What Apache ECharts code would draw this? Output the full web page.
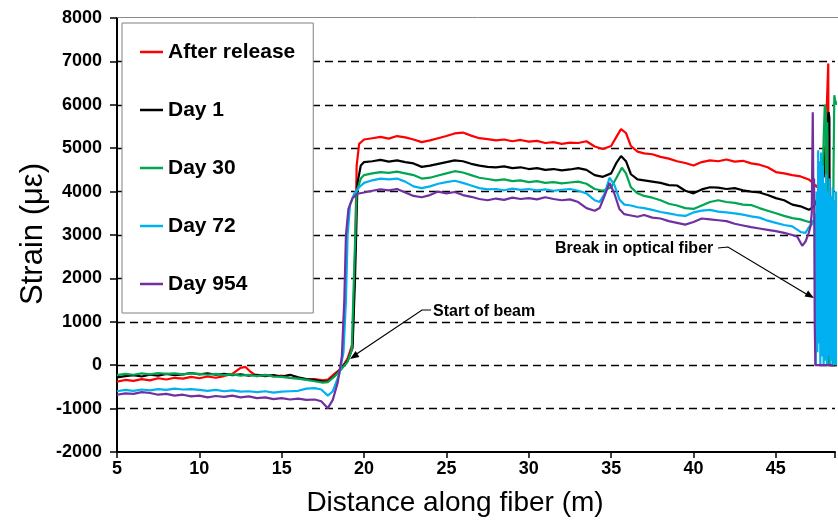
<!DOCTYPE html>
<html>
<head>
<meta charset="utf-8">
<script src="https://cdn.jsdelivr.net/npm/echarts@6/dist/echarts.min.js"></script>
<style>
html,body{margin:0;padding:0;background:#fff;}
#chart{width:838px;height:520px;}
</style>
</head>
<body>
<div id="chart"></div>
<script>
// ---- Data (x = distance along fiber in m, y = strain in microstrain) ----
const seriesNames = ['After release', 'Day 1', 'Day 30', 'Day 72', 'Day 954'];
const seriesColors = ['#ff0000', '#000000', '#00a651', '#00b0f0', '#7030a0'];
const xTicks = [5, 10, 15, 20, 25, 30, 35, 40, 45];
const yTicks = [-2000, -1000, 0, 1000, 2000, 3000, 4000, 5000, 6000, 7000, 8000];

const afterRelease = [
  [5,-380],[5.5,-340],[6,-360],[6.5,-320],[7,-350],[7.5,-300],[8,-330],[8.5,-290],[9,-310],[9.5,-270],
  [10,-300],[10.5,-260],[11,-290],[11.5,-250],[12,-200],[12.5,-60],[12.8,-40],[13.1,-150],[13.5,-250],
  [14,-220],[14.5,-260],[15,-240],[15.5,-290],[16,-300],[16.5,-330],[17,-320],[17.5,-350],[17.8,-330],
  [18.2,-200],[18.6,-80],[19,150],[19.3,500],[19.45,2500],[19.55,4600],[19.7,5100],[20,5200],[20.5,5230],
  [21,5260],[21.5,5220],[22,5280],[22.5,5250],[23,5200],[23.5,5140],[24,5180],[24.5,5230],[25,5280],
  [25.5,5340],[26,5360],[26.5,5290],[27,5230],[27.5,5210],[28,5180],[28.5,5200],[29,5160],[29.5,5190],
  [30,5150],[30.5,5170],[31,5120],[31.5,5140],[32,5100],[32.5,5130],[33,5120],[33.5,5160],[34,5040],
  [34.5,4980],[35,5050],[35.3,5250],[35.6,5440],[35.9,5350],[36.2,5050],[36.6,4920],[37,4880],[37.5,4860],
  [38,4800],[38.5,4760],[39,4700],[39.5,4660],[40,4600],[40.5,4680],[41,4720],[41.5,4700],[42,4740],
  [42.5,4690],[43,4710],[43.5,4650],[44,4620],[44.5,4560],[45,4450],[45.5,4420],[46,4380],[46.5,4350],
  [47,4280],[47.3,4180],[47.5,4100],[47.7,4380],[47.95,4350],[48.18,6950],[48.21,0],[48.7,0]
];
const day1 = [
  [5,-280],[5.5,-250],[6,-230],[6.5,-260],[7,-220],[7.5,-240],[8,-200],[8.5,-230],[9,-210],[9.5,-180],
  [10,-210],[10.5,-190],[11,-220],[11.5,-200],[12,-230],[12.5,-210],[13,-240],[13.5,-220],[14,-250],
  [14.5,-230],[15,-260],[15.5,-220],[16,-280],[16.5,-320],[17,-340],[17.5,-380],[17.8,-370],[18.2,-250],
  [18.6,-80],[19,100],[19.3,400],[19.45,2000],[19.6,4200],[19.8,4600],[20,4680],[20.5,4700],[21,4730],
  [21.5,4690],[22,4720],[22.5,4680],[23,4650],[23.5,4570],[24,4600],[24.5,4640],[25,4680],[25.5,4720],
  [26,4700],[26.5,4640],[27,4600],[27.5,4570],[28,4560],[28.5,4580],[29,4540],[29.5,4560],[30,4520],
  [30.5,4540],[31,4500],[31.5,4520],[32,4490],[32.5,4510],[33,4540],[33.5,4500],[34,4380],[34.5,4340],
  [35,4420],[35.3,4650],[35.6,4820],[35.9,4700],[36.2,4400],[36.6,4280],[37,4260],[37.5,4230],[38,4200],
  [38.5,4150],[39,4140],[39.5,4020],[40,3960],[40.5,4050],[41,4100],[41.5,4090],[42,4060],[42.5,4080],
  [43,4030],[43.5,4000],[44,3980],[44.5,3920],[45,3850],[45.5,3800],[46,3700],[46.5,3660],[47,3580],
  [47.1,3560],[47.3,3650],[47.5,3820],[47.7,3900],[47.9,4400],[48.1,5300],[48.2,5830],[48.25,5700],
  [48.28,0],[48.7,0]
];
const day30 = [
  [5,-230],[5.5,-200],[6,-220],[6.5,-190],[7,-210],[7.5,-180],[8,-200],[8.5,-190],[9,-210],[9.5,-190],
  [10,-200],[10.5,-220],[11,-200],[11.5,-230],[12,-210],[12.5,-240],[13,-220],[13.5,-250],[14,-230],
  [14.5,-260],[15,-270],[15.5,-290],[16,-310],[16.5,-340],[17,-370],[17.5,-400],[17.8,-390],[18.2,-260],
  [18.6,-100],[19,80],[19.25,350],[19.4,2200],[19.55,4000],[19.8,4300],[20,4380],[20.5,4420],[21,4450],
  [21.5,4430],[22,4460],[22.5,4420],[23,4380],[23.5,4300],[24,4320],[24.5,4370],[25,4420],[25.5,4470],
  [26,4440],[26.5,4380],[27,4320],[27.5,4290],[28,4260],[28.5,4280],[29,4240],[29.5,4260],[30,4220],
  [30.5,4240],[31,4200],[31.5,4220],[32,4190],[32.5,4210],[33,4230],[33.5,4180],[34,4060],[34.5,4020],
  [35,4100],[35.3,4300],[35.65,4550],[35.9,4420],[36.2,4100],[36.6,3960],[37,3900],[37.5,3860],[38,3800],
  [38.5,3720],[39,3680],[39.5,3620],[40,3600],[40.5,3680],[41,3760],[41.5,3800],[42,3760],[42.5,3740],
  [43,3700],[43.5,3690],[44,3620],[44.5,3560],[45,3500],[45.5,3440],[46,3390],[46.5,3360],[47,3300],
  [47.2,3320],[47.4,3280],[47.6,3350],[47.8,3400],[47.9,5200],[47.97,6000],[48.03,5900],[48.08,3000],
  [48.12,5600],[48.18,0],[48.45,0],[48.5,4500],[48.55,6220],[48.6,6100],[48.7,6000]
];
const day72 = [
  [5,-600],[5.5,-570],[6,-590],[6.5,-560],[7,-580],[7.5,-550],[8,-570],[8.5,-540],[9,-560],[9.5,-550],
  [10,-570],[10.5,-590],[11,-570],[11.5,-600],[12,-580],[12.5,-610],[13,-600],[13.5,-620],[14,-600],
  [14.5,-630],[15,-610],[15.5,-600],[16,-590],[16.5,-540],[17,-530],[17.4,-560],[17.8,-700],[18.1,-600],
  [18.5,-200],[18.75,300],[18.9,1500],[19,3000],[19.15,3700],[19.4,3950],[19.7,4100],[20,4200],[20.5,4260],
  [21,4300],[21.5,4280],[22,4300],[22.5,4230],[23,4120],[23.5,4080],[24,4120],[24.5,4180],[25,4220],
  [25.5,4250],[26,4200],[26.5,4140],[27,4080],[27.5,4050],[28,4060],[28.5,4030],[29,4070],[29.5,4040],
  [30,4060],[30.5,4030],[31,4050],[31.5,4020],[32,4040],[32.5,4060],[33,4020],[33.5,3960],[34,3800],
  [34.3,3760],[34.6,3950],[34.9,4320],[35.2,4150],[35.5,3820],[35.8,3700],[36.2,3680],[36.6,3640],
  [37,3620],[37.5,3580],[38,3530],[38.5,3500],[39,3460],[39.5,3440],[40,3520],[40.5,3560],[41,3580],
  [41.5,3540],[42,3520],[42.5,3500],[43,3470],[43.5,3430],[44,3400],[44.5,3330],[45,3280],[45.5,3230],
  [46,3200],[46.5,3070],[46.8,3050],[47,3180],[47.2,3250],[47.3,3300],[47.38,3500],[47.42,0],[47.47,4000],
  [47.52,300],[47.57,4950],[47.6,500],[47.65,4700],[47.7,0],[47.75,4900],[47.8,200],[47.85,4600],[47.9,0],
  [47.95,4200],[48,100],[48.05,4400],[48.1,0],[48.15,4000],[48.2,200],[48.25,4300],[48.3,0],[48.35,3900],
  [48.4,100],[48.45,4100],[48.5,0],[48.55,3800],[48.6,0],[48.65,4000],[48.7,0]
];
const day954 = [
  [5,-680],[5.5,-650],[6,-660],[6.5,-620],[7,-640],[7.5,-680],[8,-660],[8.5,-700],[9,-680],[9.5,-720],
  [10,-700],[10.5,-740],[11,-710],[11.5,-730],[12,-700],[12.5,-740],[13,-720],[13.5,-760],[14,-740],
  [14.5,-780],[15,-760],[15.5,-790],[16,-770],[16.5,-800],[17,-790],[17.4,-830],[17.8,-990],[18.1,-800],
  [18.4,-400],[18.65,200],[18.8,1500],[18.9,3000],[19.05,3600],[19.3,3850],[19.6,3950],[20,3980],
  [20.5,4020],[21,4050],[21.5,4030],[22,4060],[22.5,3980],[23,3900],[23.5,3870],[24,3920],[24.5,4000],
  [25,3960],[25.5,3990],[26,3920],[26.5,3880],[27,3830],[27.5,3800],[28,3840],[28.5,3810],[29,3860],
  [29.5,3830],[30,3850],[30.5,3820],[31,3870],[31.5,3830],[32,3800],[32.5,3820],[33,3760],[33.5,3620],
  [34,3560],[34.3,3620],[34.6,3900],[34.9,4200],[35.2,3950],[35.5,3600],[35.8,3480],[36.2,3450],
  [36.6,3420],[37,3460],[37.5,3400],[38,3380],[38.5,3320],[39,3280],[39.5,3240],[40,3300],[40.5,3380],
  [41,3360],[41.5,3340],[42,3320],[42.5,3260],[43,3220],[43.5,3180],[44,3150],[44.5,3120],[45,3090],
  [45.5,3050],[46,3000],[46.3,2960],[46.6,2750],[46.8,2850],[47,3050],[47.1,3200],[47.18,3500],
  [47.24,5830],[47.28,3800],[47.32,4300],[47.36,950],[47.4,0],[48.45,0]
];
const seriesData = [afterRelease, day1, day30, day72, day954];

// ---- Chart ----
const FONT = "'Liberation Sans', Arial, Helvetica, sans-serif";
const chart = echarts.init(document.getElementById('chart'), null, {renderer: 'canvas'});

const option = {
  animation: false,
  backgroundColor: '#ffffff',
  grid: {left: 117, right: 0, top: 18, bottom: 68, show: false},
  xAxis: {
    type: 'value', min: 5, max: 48.59, interval: 5,
    axisLine: {show: true, onZero: false, lineStyle: {color: '#000', width: 2}},
    axisTick: {show: true, inside: false, length: 6, lineStyle: {color: '#000', width: 1.5}},
    axisLabel: {
      color: '#000', fontSize: 18, fontWeight: 'bold', fontFamily: FONT, margin: 8,
      formatter: function (v) { return xTicks.indexOf(v) >= 0 ? String(v) : ''; }
    },
    splitLine: {show: false}
  },
  yAxis: {
    type: 'value', min: -2000, max: 8000, interval: 1000,
    axisLine: {show: true, onZero: false, lineStyle: {color: '#000', width: 2}},
    axisTick: {show: true, inside: false, length: 7, lineStyle: {color: '#000', width: 1.5}},
    axisLabel: {
      color: '#000', fontSize: 18, fontWeight: 'bold', fontFamily: FONT, margin: 15,
      formatter: function (v) { return yTicks.indexOf(v) >= 0 ? String(v) : ''; }
    },
    splitLine: {show: true, showMinLine: false, showMaxLine: false,
      lineStyle: {color: '#000', width: 1.4, type: [8, 5]}}
  },
  legend: {
    orient: 'vertical', left: 122, top: 23,
    padding: [17, 18, 17, 18],
    itemGap: 34, itemWidth: 23, itemHeight: 2.5,
    icon: 'rect',
    selectedMode: false,
    backgroundColor: '#ffffff', borderColor: '#808080', borderWidth: 1,
    textStyle: {color: '#000', fontSize: 21, fontWeight: 'bold', fontFamily: FONT, lineHeight: 24},
    data: seriesNames
  },
  series: seriesNames.map(function (name, i) {
    return {
      name: name, type: 'line', data: seriesData[i],
      showSymbol: false, symbol: 'none', smooth: false,
      lineStyle: {color: seriesColors[i], width: 2.2},
      itemStyle: {color: seriesColors[i]},
      clip: true, z: 2 + i
    };
  }),
  graphic: [
    {type: 'line', z: 1, shape: {x1: 117, y1: 17.5, x2: 838, y2: 17.5},
      style: {stroke: '#8a8a8a', lineWidth: 1}},
    {type: 'text', x: 33, y: 234, rotation: Math.PI / 2, z: 100,
      style: {text: 'Strain (\u03bc\u03b5)', fill: '#000', font: '31px ' + FONT, align: 'center', verticalAlign: 'middle'}},
    {type: 'text', x: 455, y: 503, z: 100,
      style: {text: 'Distance along fiber (m)', fill: '#000', font: '28px ' + FONT, align: 'center', verticalAlign: 'middle'}},
    {type: 'text', x: 433, y: 312, z: 100,
      style: {text: 'Start of beam', fill: '#000', font: 'bold 16px ' + FONT, align: 'left', verticalAlign: 'middle'}},
    {type: 'polyline', z: 100, shape: {points: [[431, 310], [422, 310], [355, 355]]},
      style: {stroke: '#000', lineWidth: 1.2, fill: null}},
    {type: 'polygon', z: 100, shape: {points: [[350, 359], [359.4, 356.9], [355.6, 351.1]]},
      style: {fill: '#000'}},
    {type: 'text', x: 555, y: 249, z: 100,
      style: {text: 'Break in optical fiber', fill: '#000', font: 'bold 16px ' + FONT, align: 'left', verticalAlign: 'middle'}},
    {type: 'polyline', z: 100, shape: {points: [[718, 248], [728, 247], [808, 295]]},
      style: {stroke: '#000', lineWidth: 1.2, fill: null}},
    {type: 'polygon', z: 100, shape: {points: [[814, 298], [804.5, 296.4], [808.1, 290.4]]},
      style: {fill: '#000'}}
  ]
};
chart.setOption(option);
</script>
</body>
</html>
